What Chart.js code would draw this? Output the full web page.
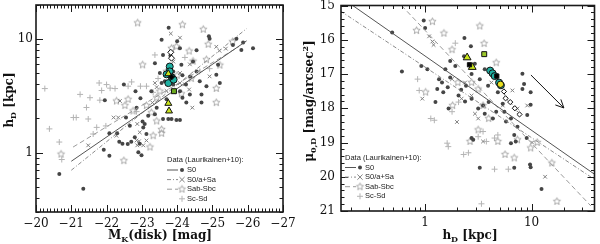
<!DOCTYPE html>
<html>
<head>
<meta charset="utf-8">
<script src="https://cdn.jsdelivr.net/npm/chart.js@4.4.1/dist/chart.umd.min.js"></script>
<style>
html, body { margin: 0; padding: 0; background: #fff; }
#wrap { width: 600px; height: 244px; display: flex; }
canvas { display: block; }
</style>
</head>
<body>
<div id="wrap">
  <canvas id="left" width="300" height="244"></canvas>
  <canvas id="right" width="300" height="244"></canvas>
</div>
<script>
// ---- left panel: disc scale length vs disc magnitude ----
const magS0 = [-20.66,-21.34,-21.95,-22.08,-22.08,-21.92,-22.36,-22.49,-22.55,-22.66,-22.82,-22.85,-23.02,-22.96,-23.04,-22.94,-22.9,-22.99,-23.13,-23.08,-23.18,-23.37,-23.51,-23.56,-23.76,-23.6,-23.81,-24.0,-24.08,-23.65,-23.75,-23.89,-24.15,-24.25,-24.08,-24.15,-24.26,-24.36,-23.7,-23.6,-23.75,-23.84,-23.98,-24.08,-23.42,-23.37,-24.45,-24.55,-24.64,-24.69,-24.83,-24.92,-24.9,-25.16,-25.11,-25.21,-25.68,-25.87,-25.82,-26.15,-24.69,-25.58,-24.55,-24.12,-24.37,-23.89,-23.56,-23.27,-22.8,-22.7,-22.3,-22.45,-22.6];
const hdS0 = [0.65,0.48,2.89,1.48,0.94,1.06,1.25,3.98,2.04,1.73,3.48,2.49,1.88,3.01,1.67,1.2,1.01,0.95,1.46,1.79,2.11,6.14,5.03,9.9,12.6,7.26,7.17,9.6,8.3,4.26,5.37,5.2,4.8,3.98,3.48,3.05,2.76,3.26,2.95,1.98,1.98,1.98,1.94,1.94,2.49,2.18,6.35,5.2,4.26,3.26,3.85,10.1,10.6,5.94,4.86,4.11,10.1,9.35,8.02,8.3,2.76,8.87,8.0,5.94,4.7,3.98,4.11,3.48,1.37,1.25,1.48,1.2,1.19];
const magSa = [-21.48,-22.33,-22.38,-22.2,-22.28,-22.87,-22.92,-23.04,-23.13,-22.85,-22.87,-22.94,-23.3,-23.37,-23.42,-23.82,-24.08,-23.89,-24.08,-24.22,-24.36,-24.34,-24.43,-24.92,-25.11,-25.2,-25.38,-23.7,-23.89,-24.08];
const hdSa = [1.16,2.04,2.85,2.04,1.41,1.16,1.26,1.16,1.28,1.28,1.79,1.51,2.76,4.11,3.78,11.2,10.3,6.35,5.03,4.0,6.0,3.6,2.49,4.7,8.57,7.9,8.25,3.5,3.4,4.1];
const magSb = [-20.71,-22.49,-22.88,-24.15,-23.02,-23.32,-23.23,-23.56,-23.42,-23.42,-23.7,-23.84,-23.98,-24.34,-24.45,-24.74,-24.88,-24.83,-25.11,-25.11,-25.21,-24.4,-23.84,-22.61,-22.75,-22.52,-23.27,-23.51,-24.12,-22.28,-23.13,-24.0,-25.57,-23.56];
const hdSb = [0.97,0.85,13.9,13.4,5.94,1.41,1.12,1.48,1.9,3.05,5.2,8.3,8.6,7.85,6.4,12.2,9.0,6.6,3.68,2.76,5.9,4.5,4.6,2.95,2.33,2.6,2.25,3.48,3.3,2.85,2.6,4.8,9.5,1.6];
const magSc = [-20.25,-20.38,-20.66,-20.73,-21.06,-21.14,-21.25,-21.48,-21.53,-21.79,-21.86,-21.72,-22.0,-22.1,-21.62,-22.24,-22.61,-23.13,-22.96,-23.46,-23.32,-23.37,-24.22,-24.64,-24.92,-21.81,-21.98,-22.85,-21.43,-22.71];
const hdSc = [3.67,1.62,1.24,0.87,2.04,2.04,3.26,1.98,3.05,4.11,3.53,1.67,3.98,3.7,1.46,3.67,3.85,3.85,3.85,4.5,3.4,7.26,6.9,5.2,5.5,2.9,1.72,2.3,2.5,4.2];

// fits (left)
const fitS0Mag = [-21.0, -25.97], fitS0Hd = [0.84, 9.67];
const fitSaMag = [-21.0, -25.97], fitSaHd = [0.70, 12.4];
const fitSbMag = [-21.05, -25.75], fitSbHd = [1.12, 8.6];

// highlighted galaxies (left)
const diaMag = [-23.82, -23.84], diaHd = [7.66, 6.8];
const tealMag = [-23.79, -23.79, -23.85, -23.75, -23.9, -23.7], tealHd = [5.74, 5.2, 4.6, 4.1, 4.4, 4.9];
const triMag = [-23.75, -23.75, -23.77], triHd = [4.96, 2.72, 2.33];
const sqMag = [-23.91], sqHd = [3.48];
const blkMag = [-23.84], blkHd = [4.64];

// ---- right panel: central surface brightness vs scale length ----
const rhS0 = [0.49,0.605,0.97,1.0,0.92,1.05,1.44,1.63,1.92,2.34,2.32,2.69,2.93,2.73,3.26,3.63,3.9,4.33,2.42,2.18,2.06,2.37,2.73,3.15,3.5,3.95,4.82,5.36,5.55,6.4,6.87,7.1,7.37,8.2,8.5,8.2,9.8,9.1,9.8,5.75,6.4,9.0,9.67,9.8,3.26,6.87,12.4,1.55,1.72,1.35,1.3,1.48,1.25,1.66,4.65,4.33,3.63,2.73,2.83,1.72];
const muS0 = [15.79,16.93,15.44,15.66,16.77,16.86,17.25,17.39,16.77,15.95,16.48,16.19,16.7,17.0,17.15,16.86,17.34,17.05,17.34,17.46,17.63,17.8,17.72,18.01,17.92,17.82,17.53,17.87,18.1,18.3,18.78,18.97,18.54,17.44,17.29,16.99,17.53,18.2,17.9,18.39,19.02,18.87,19.64,19.72,19.74,19.74,20.36,16.86,16.62,17.15,17.44,17.53,17.82,18.01,18.1,18.3,18.16,18.87,18.92,17.1];
const rhSa = [1.09,1.17,1.2,0.94,2.2,2.73,3.15,3.5,6.6,7.37,9.1,10.1,13.4,1.99,2.94,4.19,5.36,2.37,1.79];
const muSa = [15.9,16.05,16.15,17.72,17.72,17.63,18.3,18.97,17.48,18.01,17.92,19.0,20.0,18.4,18.16,17.25,17.92,17.25,17.15];
const rhSb = [0.83,1.17,1.5,1.79,3.26,3.58,4.65,2.73,3.15,3.95,4.82,5.63,6.87,9.8,11.3,15.5,17.3,3.15,2.64,3.5,7.37,1.81,1.01,2.03];
const muSb = [15.73,15.47,15.81,16.29,15.6,16.11,16.67,17.25,17.44,18.3,18.97,19.35,19.45,19.16,19.0,19.6,20.72,18.63,18.97,17.92,18.92,17.92,17.53,17.25];
const rhSc = [0.85,0.88,1.13,1.22,1.61,1.65,2.3,2.55,3.38,3.5,3.76,4.49,1.79,2.06,4.82,4.49,6.05,1.92,3.15];
const muSc = [17.15,17.48,18.3,18.35,19.02,19.12,19.35,19.3,20.79,18.68,18.97,18.87,18.1,17.82,18.78,19.78,19.78,16.1,18.83];

// fits (right)
const fitS0Rh = [0.2, 40], fitS0Mu = [14.96, 19.95];
const fitSaRh = [0.16, 40], fitSaMu = [15.16, 20.1];
const fitSbRh = [0.6, 36], fitSbMu = [15.0, 20.85];

// highlighted galaxies (right)
const rDiaRh = [5.5, 5.7, 6.3, 6.96, 7.7], rDiaMu = [17.51, 17.71, 17.82, 18.0, 18.18];
const rTealRh = [4.08, 4.3, 4.5, 4.95, 5.15], rTealMu = [16.9, 16.98, 17.06, 17.25, 17.33];
const rTriRh = [2.48, 2.77], rTriMu = [16.52, 16.8];
const rSqRh = [3.59], rSqMu = [16.42];
const rBlkRh = [2.61, 4.71], rBlkMu = [16.73, 17.06];
const rYelRh = [5.1], rYelMu = [17.3];

const arrowRh = [9.86, 20.1], arrowMu = [17.03, 17.99];

// ticks
const magTicks = [-27, -26, -25, -24, -23, -22, -21, -20];
const hdTicks = [1, 10];
const muTicks = [15, 16, 17, 18, 19, 20, 21];

const ColS0 = '#454545', ColSa = '#808080', ColSb = '#a0a0a0', ColSc = '#b4b4b4';
const TickFont = { family: 'DejaVu Serif', size: 12 };

const pts = (xs, ys) => xs.map((x, i) => ({ x: x, y: ys[i] }));

const logMinors = (lo, hi) => {
	const out = [];
	for (let d = -2; d <= 2; d++) {
		for (let k = 1; k < 10; k++) {
			const v = k * Math.pow(10, d);
			if (v >= lo && v <= hi) out.push(v);
		}
	}
	return out;
};
const linMinors = (lo, hi, step) => {
	const out = [];
	for (let v = lo; v <= hi + 1e-9; v += step) out.push(+v.toFixed(3));
	return out;
};

const makeStar = (color, r) => {
	const c = document.createElement('canvas');
	const s = Math.ceil(r * 2 + 3);
	c.width = c.height = s;
	const g = c.getContext('2d');
	g.strokeStyle = color;
	g.lineWidth = 0.9;
	g.beginPath();
	for (let i = 0; i < 10; i++) {
		const rad = i % 2 ? r * 0.45 : r;
		const a = -Math.PI / 2 + i * Math.PI / 5;
		const px = s / 2 + rad * Math.cos(a), py = s / 2 + rad * Math.sin(a);
		if (i) g.lineTo(px, py); else g.moveTo(px, py);
	}
	g.closePath();
	g.stroke();
	return c;
};
const starImg = makeStar(ColSb, 3.8);

/**
 * ------------------------------------------------------------------------
 * 				PLUGINS
 * ------------------------------------------------------------------------
 */

// IDL-style box with inward ticks on all four sides
const frameTicks = {
	id: 'frameTicks',
	afterDatasetsDraw(chart, args, opts) {
		const { ctx, chartArea: a, scales: { x, y } } = chart;
		ctx.save();
		ctx.strokeStyle = '#1a1a1a';
		ctx.lineWidth = 1;
		ctx.beginPath();
		const xt = (vals, len) => vals.forEach(v => {
			const p = Math.round(x.getPixelForValue(v)) + 0.5;
			ctx.moveTo(p, a.bottom); ctx.lineTo(p, a.bottom - len);
			ctx.moveTo(p, a.top); ctx.lineTo(p, a.top + len);
		});
		const yt = (vals, len) => vals.forEach(v => {
			const p = Math.round(y.getPixelForValue(v)) + 0.5;
			ctx.moveTo(a.left, p); ctx.lineTo(a.left + len, p);
			ctx.moveTo(a.right, p); ctx.lineTo(a.right - len, p);
		});
		xt(opts.xMajor, 7); xt(opts.xMinor, 3.5);
		yt(opts.yMajor, 7); yt(opts.yMinor, 3.5);
		ctx.stroke();
		ctx.lineWidth = 1.6;
		ctx.strokeRect(a.left, a.top, a.width, a.height);
		ctx.restore();
	}
};

const drawRich = (ctx, parts, cx, cy, rotate) => {
	const fMain = 'bold 12px "DejaVu Serif"', fSmall = 'bold 8px "DejaVu Serif"';
	let total = 0;
	parts.forEach(p => { ctx.font = p.sub || p.sup ? fSmall : fMain; total += ctx.measureText(p.t).width; });
	ctx.save();
	ctx.translate(cx, cy);
	if (rotate) ctx.rotate(-Math.PI / 2);
	ctx.fillStyle = '#111';
	ctx.textBaseline = 'alphabetic';
	let xx = -total / 2;
	parts.forEach(p => {
		ctx.font = p.sub || p.sup ? fSmall : fMain;
		const dy = p.sub ? 7 : p.sup ? -1 : 4;
		ctx.fillText(p.t, xx, dy);
		xx += ctx.measureText(p.t).width;
	});
	ctx.restore();
};

const axisTitles = {
	id: 'axisTitles',
	afterDraw(chart, args, opts) {
		opts.items.forEach(it => drawRich(chart.ctx, it.parts, it.x, it.y, it.rotate));
	}
};

const drawMarker = (ctx, kind, x, y) => {
	ctx.save();
	ctx.lineWidth = 1;
	if (kind === 'circle') {
		ctx.fillStyle = ColS0;
		ctx.beginPath(); ctx.arc(x, y, 2, 0, Math.PI * 2); ctx.fill();
	} else if (kind === 'x') {
		ctx.strokeStyle = ColSa;
		ctx.beginPath(); ctx.moveTo(x - 2.6, y - 2.6); ctx.lineTo(x + 2.6, y + 2.6);
		ctx.moveTo(x - 2.6, y + 2.6); ctx.lineTo(x + 2.6, y - 2.6); ctx.stroke();
	} else if (kind === 'star') {
		ctx.drawImage(starImg, x - starImg.width / 2, y - starImg.height / 2);
	} else {
		ctx.strokeStyle = ColSc;
		ctx.beginPath(); ctx.moveTo(x - 3, y); ctx.lineTo(x + 3, y);
		ctx.moveTo(x, y - 3); ctx.lineTo(x, y + 3); ctx.stroke();
	}
	ctx.restore();
};

const legendItems = [
	{ label: 'S0', color: '#555', dash: [], marker: 'circle' },
	{ label: 'S0/a+Sa', color: '#8a8a8a', dash: [4, 2, 1, 2], marker: 'x' },
	{ label: 'Sab-Sbc', color: '#9a9a9a', dash: [5, 3], marker: 'star' },
	{ label: 'Sc-Sd', color: null, dash: [], marker: 'plus' }
];

const boxLegend = {
	id: 'boxLegend',
	afterDraw(chart, args, opts) {
		const ctx = chart.ctx;
		ctx.save();
		ctx.font = '7.5px "Liberation Sans"';
		ctx.fillStyle = '#222';
		ctx.textBaseline = 'middle';
		ctx.fillText('Data (Laurikainen+10):', opts.x, opts.y);
		legendItems.forEach((it, i) => {
			const yy = opts.y + 10 + i * 9.6;
			if (it.color) {
				ctx.strokeStyle = it.color;
				ctx.lineWidth = 1;
				ctx.setLineDash(it.dash);
				ctx.beginPath(); ctx.moveTo(opts.x, yy); ctx.lineTo(opts.x + 11, yy); ctx.stroke();
				ctx.setLineDash([]);
			}
			drawMarker(ctx, it.marker, opts.x + 15, yy);
			ctx.fillStyle = '#222';
			ctx.fillText(it.label, opts.x + 20, yy);
		});
		ctx.restore();
	}
};

const arrowHead = {
	id: 'arrowHead',
	afterDatasetsDraw(chart) {
		chart.data.datasets.forEach((ds, i) => {
			if (!ds.arrowHead) return;
			const pts = chart.getDatasetMeta(i).data;
			const p0 = pts[0], p1 = pts[pts.length - 1];
			const ang = Math.atan2(p1.y - p0.y, p1.x - p0.x);
			const ctx = chart.ctx;
			ctx.save();
			ctx.strokeStyle = '#111';
			ctx.lineWidth = 1;
			ctx.beginPath();
			[-0.45, 0.45].forEach(d => {
				ctx.moveTo(p1.x, p1.y);
				ctx.lineTo(p1.x - 9 * Math.cos(ang + d), p1.y - 9 * Math.sin(ang + d));
			});
			ctx.stroke();
			ctx.restore();
		});
	}
};

/**
 * ------------------------------------------------------------------------
 * 				CHARTS
 * ------------------------------------------------------------------------
 */

const scatterSet = (data, style, color, radius, order, bw) => ({
	data: data, pointStyle: style, pointRadius: radius, pointHoverRadius: radius,
	backgroundColor: color, borderColor: color, pointBorderWidth: bw, order: order
});
const lineSet = (data, color, dash, order) => ({
	data: data, showLine: true, pointRadius: 0, borderColor: color, borderWidth: 1,
	borderDash: dash, order: order
});
const markSet = (data, style, fill, radius, order) => ({
	data: data, pointStyle: style, pointRadius: radius, backgroundColor: fill,
	borderColor: '#111', pointBorderWidth: 1, order: order
});

const baseOptions = (xScale, yScale, padding) => ({
	responsive: false,
	animation: false,
	devicePixelRatio: 1,
	layout: { padding: padding },
	events: [],
	scales: { x: xScale, y: yScale },
});

const noPad = s => { s.paddingTop = 0; s.paddingBottom = 0; s.paddingLeft = 0; s.paddingRight = 0; };
const NoGrid = { display: false, drawTicks: false };

const leftOptions = baseOptions(
	{
		type: 'linear', min: -27, max: -20, reverse: true,
		grid: NoGrid, border: { display: false },
		ticks: { stepSize: 1, padding: 5, color: '#111', font: TickFont, maxRotation: 0, callback: v => '\u2212' + Math.abs(v) },
		afterBuildTicks: s => { s.ticks = magTicks.map(v => ({ value: v })); },
		afterFit: s => { s.height = 32; noPad(s); }
	},
	{
		type: 'logarithmic', min: 0.3, max: 20,
		grid: NoGrid, border: { display: false },
		ticks: { padding: 3, color: '#111', font: TickFont, callback: v => String(v) },
		afterBuildTicks: s => { s.ticks = hdTicks.map(v => ({ value: v })); },
		afterFit: s => { s.width = 36; noPad(s); }
	},
	{ top: 4, right: 17, left: 0, bottom: 0 }
);
leftOptions.plugins = {
	legend: { display: false }, tooltip: { enabled: false },
	frameTicks: { xMajor: magTicks, xMinor: linMinors(-27, -20, 0.1), yMajor: hdTicks, yMinor: logMinors(0.3, 20) },
	axisTitles: { items: [
		{ parts: [{ t: 'M' }, { t: 'K', sub: true }, { t: '(disk) [mag]' }], x: 160, y: 235 },
		{ parts: [{ t: 'h' }, { t: 'D', sub: true }, { t: ' [kpc]' }], x: 9, y: 100, rotate: true }
	] },
	boxLegend: { x: 167, y: 160 }
};

new Chart(document.getElementById('left'), {
	type: 'scatter',
	data: {
		datasets: [
			markSet(pts(blkMag, blkHd), 'rectRot', '#000', 3, 0),
			markSet(pts(sqMag, sqHd), 'rect', '#6aa81e', 3.5, 0),
			markSet(pts(triMag, triHd), 'triangle', '#c9e51c', 4, 0),
			markSet(pts(tealMag, tealHd), 'circle', '#1fb0a2', 3.5, 0),
			Object.assign(markSet(pts(diaMag, diaHd), 'rectRot', '#fff', 3, 0), { showLine: true, borderDash: [1, 2], borderWidth: 1 }),
			lineSet(pts(fitS0Mag, fitS0Hd), '#555', [], 1),
			lineSet(pts(fitSaMag, fitSaHd), '#8a8a8a', [4, 2, 1, 2], 1),
			lineSet(pts(fitSbMag, fitSbHd), '#9a9a9a', [5, 3], 1),
			scatterSet(pts(magS0, hdS0), 'circle', ColS0, 2, 2, 0),
			scatterSet(pts(magSa, hdSa), 'crossRot', ColSa, 2.6, 3, 1),
			scatterSet(pts(magSb, hdSb), starImg, ColSb, 3, 4, 1),
			scatterSet(pts(magSc, hdSc), 'cross', ColSc, 3, 5, 1)
		]
	},
	options: leftOptions,
	plugins: [frameTicks, axisTitles, boxLegend]
});

const rightOptions = baseOptions(
	{
		type: 'logarithmic', min: 0.162, max: 39,
		grid: NoGrid, border: { display: false },
		ticks: { padding: 5, color: '#111', font: TickFont, maxRotation: 0, callback: v => String(v) },
		afterBuildTicks: s => { s.ticks = hdTicks.map(v => ({ value: v })); },
		afterFit: s => { s.height = 33; noPad(s); }
	},
	{
		type: 'linear', min: 15, max: 21, reverse: true,
		grid: NoGrid, border: { display: false },
		ticks: { stepSize: 1, padding: 6, color: '#111', font: TickFont },
		afterBuildTicks: s => { s.ticks = muTicks.map(v => ({ value: v })); },
		afterFit: s => { s.width = 41; noPad(s); }
	},
	{ top: 2, right: 2, left: 0, bottom: 0 }
);
rightOptions.plugins = {
	legend: { display: false }, tooltip: { enabled: false },
	frameTicks: { xMajor: hdTicks, xMinor: logMinors(0.162, 39), yMajor: muTicks, yMinor: linMinors(15, 21, 0.2) },
	axisTitles: { items: [
		{ parts: [{ t: 'h' }, { t: 'D', sub: true }, { t: ' [kpc]' }], x: 170, y: 235 },
		{ parts: [{ t: '\u03bc' }, { t: '0,D', sub: true }, { t: ' [mag/arcsec' }, { t: '2', sup: true }, { t: ']' }], x: 9, y: 101, rotate: true }
	] },
	boxLegend: { x: 45, y: 157.5 }
};

new Chart(document.getElementById('right'), {
	type: 'scatter',
	data: {
		datasets: [
			markSet(pts(rBlkRh, rBlkMu), 'rect', '#000', 3, 0),
			markSet(pts(rYelRh, rYelMu), 'circle', '#e8e020', 3.2, 0),
			markSet(pts(rSqRh, rSqMu), 'rect', '#9cc82a', 3.5, 0),
			markSet(pts(rTriRh, rTriMu), 'triangle', '#c9e51c', 4.5, 0),
			markSet(pts(rTealRh, rTealMu), 'circle', '#1fb0a2', 3.5, 0),
			Object.assign(markSet(pts(rDiaRh, rDiaMu), 'rectRot', '#fff', 2.6, 0), { showLine: true, borderDash: [1, 2], borderWidth: 1 }),
			Object.assign(lineSet(pts(arrowRh, arrowMu), '#111', [], 0), { arrowHead: true }),
			lineSet(pts(fitS0Rh, fitS0Mu), '#555', [], 1),
			lineSet(pts(fitSaRh, fitSaMu), '#8a8a8a', [4, 2, 1, 2], 1),
			lineSet(pts(fitSbRh, fitSbMu), '#9a9a9a', [5, 3], 1),
			scatterSet(pts(rhS0, muS0), 'circle', ColS0, 2, 2, 0),
			scatterSet(pts(rhSa, muSa), 'crossRot', ColSa, 2.6, 3, 1),
			scatterSet(pts(rhSb, muSb), starImg, ColSb, 3, 4, 1),
			scatterSet(pts(rhSc, muSc), 'cross', ColSc, 3, 5, 1)
		]
	},
	options: rightOptions,
	plugins: [frameTicks, axisTitles, boxLegend, arrowHead]
});
</script>
</body>
</html>
